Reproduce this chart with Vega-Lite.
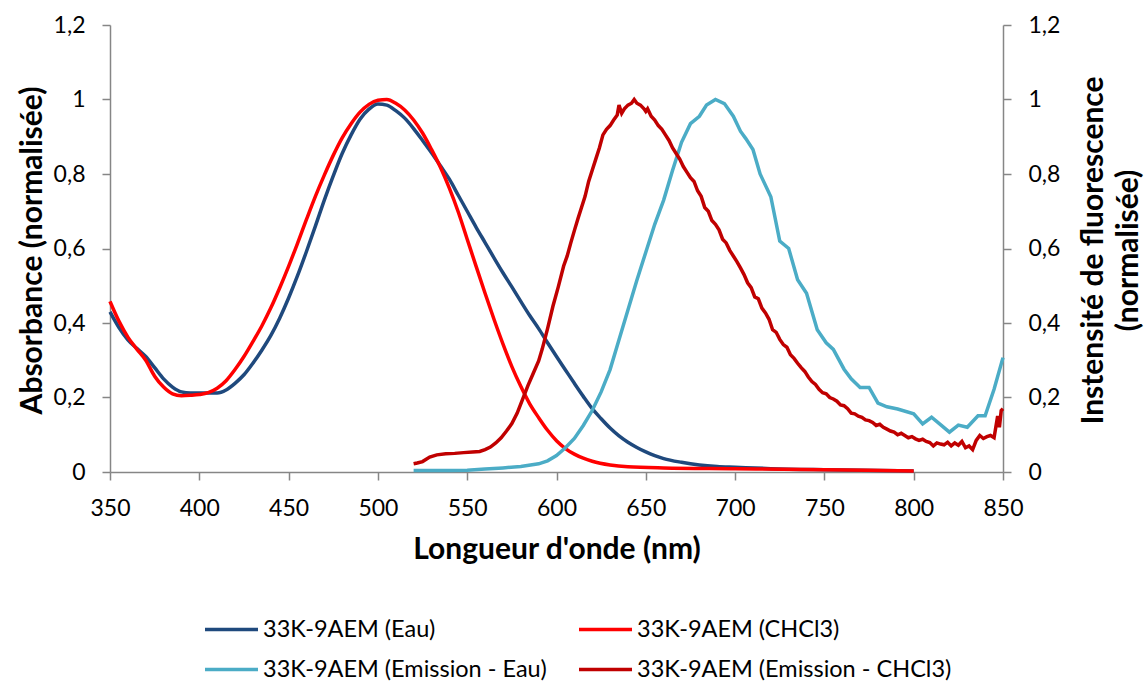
{
  "$schema": "https://vega.github.io/schema/vega-lite/v6.json",
  "width": 893,
  "height": 447,
  "autosize": {"type": "none"},
  "padding": {"left": 110, "top": 25, "right": 143, "bottom": 212},
  "background": "white",
  "config": {
    "font": "Lato",
    "view": {"stroke": null},
    "axis": {
      "grid": false,
      "domainColor": "#868686",
      "domainWidth": 1.5,
      "tickColor": "#868686",
      "tickWidth": 1.5,
      "tickSize": 8,
      "labelFont": "Lato",
      "labelFontSize": 23,
      "labelColor": "#000000",
      "labelFlush": false,
      "titleFont": "Lato",
      "titleFontSize": 30,
      "titleFontWeight": "bold",
      "titleColor": "#000000"
    },
    "legend": {
      "orient": "none",
      "legendX": 93,
      "legendY": 576,
      "columns": 2,
      "direction": "horizontal",
      "symbolType": "stroke",
      "symbolSize": 2809,
      "symbolStrokeWidth": 3.5,
      "labelFont": "Lato",
      "labelFontSize": 23.5,
      "labelColor": "#000000",
      "labelLimit": 500,
      "labelOffset": 3,
      "columnPadding": 25,
      "rowPadding": -12,
      "title": null
    }
  },
  "datasets": {
    "abs": [
      {"s": "33K-9AEM (Eau)", "x": 350, "y": 0.430}, {"s": "33K-9AEM (Eau)", "x": 355, "y": 0.388},
      {"s": "33K-9AEM (Eau)", "x": 360, "y": 0.355}, {"s": "33K-9AEM (Eau)", "x": 365, "y": 0.332},
      {"s": "33K-9AEM (Eau)", "x": 370, "y": 0.310}, {"s": "33K-9AEM (Eau)", "x": 375, "y": 0.280},
      {"s": "33K-9AEM (Eau)", "x": 380, "y": 0.250}, {"s": "33K-9AEM (Eau)", "x": 385, "y": 0.228},
      {"s": "33K-9AEM (Eau)", "x": 390, "y": 0.215}, {"s": "33K-9AEM (Eau)", "x": 395, "y": 0.212},
      {"s": "33K-9AEM (Eau)", "x": 400, "y": 0.212}, {"s": "33K-9AEM (Eau)", "x": 405, "y": 0.212},
      {"s": "33K-9AEM (Eau)", "x": 410, "y": 0.212}, {"s": "33K-9AEM (Eau)", "x": 415, "y": 0.220},
      {"s": "33K-9AEM (Eau)", "x": 420, "y": 0.238}, {"s": "33K-9AEM (Eau)", "x": 425, "y": 0.261},
      {"s": "33K-9AEM (Eau)", "x": 430, "y": 0.292}, {"s": "33K-9AEM (Eau)", "x": 435, "y": 0.327},
      {"s": "33K-9AEM (Eau)", "x": 440, "y": 0.366}, {"s": "33K-9AEM (Eau)", "x": 445, "y": 0.413},
      {"s": "33K-9AEM (Eau)", "x": 450, "y": 0.467}, {"s": "33K-9AEM (Eau)", "x": 455, "y": 0.527},
      {"s": "33K-9AEM (Eau)", "x": 460, "y": 0.592}, {"s": "33K-9AEM (Eau)", "x": 465, "y": 0.660},
      {"s": "33K-9AEM (Eau)", "x": 470, "y": 0.730}, {"s": "33K-9AEM (Eau)", "x": 475, "y": 0.795},
      {"s": "33K-9AEM (Eau)", "x": 480, "y": 0.855}, {"s": "33K-9AEM (Eau)", "x": 485, "y": 0.905},
      {"s": "33K-9AEM (Eau)", "x": 490, "y": 0.947}, {"s": "33K-9AEM (Eau)", "x": 495, "y": 0.974},
      {"s": "33K-9AEM (Eau)", "x": 500, "y": 0.988}, {"s": "33K-9AEM (Eau)", "x": 505, "y": 0.985},
      {"s": "33K-9AEM (Eau)", "x": 510, "y": 0.970}, {"s": "33K-9AEM (Eau)", "x": 515, "y": 0.950},
      {"s": "33K-9AEM (Eau)", "x": 520, "y": 0.922}, {"s": "33K-9AEM (Eau)", "x": 525, "y": 0.890},
      {"s": "33K-9AEM (Eau)", "x": 530, "y": 0.857}, {"s": "33K-9AEM (Eau)", "x": 535, "y": 0.822},
      {"s": "33K-9AEM (Eau)", "x": 540, "y": 0.786}, {"s": "33K-9AEM (Eau)", "x": 545, "y": 0.743},
      {"s": "33K-9AEM (Eau)", "x": 550, "y": 0.700}, {"s": "33K-9AEM (Eau)", "x": 555, "y": 0.657},
      {"s": "33K-9AEM (Eau)", "x": 560, "y": 0.616}, {"s": "33K-9AEM (Eau)", "x": 565, "y": 0.575},
      {"s": "33K-9AEM (Eau)", "x": 570, "y": 0.535}, {"s": "33K-9AEM (Eau)", "x": 575, "y": 0.497},
      {"s": "33K-9AEM (Eau)", "x": 580, "y": 0.458}, {"s": "33K-9AEM (Eau)", "x": 585, "y": 0.420},
      {"s": "33K-9AEM (Eau)", "x": 590, "y": 0.385}, {"s": "33K-9AEM (Eau)", "x": 595, "y": 0.347},
      {"s": "33K-9AEM (Eau)", "x": 600, "y": 0.310}, {"s": "33K-9AEM (Eau)", "x": 605, "y": 0.274},
      {"s": "33K-9AEM (Eau)", "x": 610, "y": 0.238}, {"s": "33K-9AEM (Eau)", "x": 615, "y": 0.203},
      {"s": "33K-9AEM (Eau)", "x": 620, "y": 0.170}, {"s": "33K-9AEM (Eau)", "x": 625, "y": 0.143},
      {"s": "33K-9AEM (Eau)", "x": 630, "y": 0.118}, {"s": "33K-9AEM (Eau)", "x": 635, "y": 0.097},
      {"s": "33K-9AEM (Eau)", "x": 640, "y": 0.080}, {"s": "33K-9AEM (Eau)", "x": 645, "y": 0.066},
      {"s": "33K-9AEM (Eau)", "x": 650, "y": 0.054}, {"s": "33K-9AEM (Eau)", "x": 655, "y": 0.044},
      {"s": "33K-9AEM (Eau)", "x": 660, "y": 0.036}, {"s": "33K-9AEM (Eau)", "x": 670, "y": 0.026},
      {"s": "33K-9AEM (Eau)", "x": 680, "y": 0.019}, {"s": "33K-9AEM (Eau)", "x": 690, "y": 0.015},
      {"s": "33K-9AEM (Eau)", "x": 700, "y": 0.013}, {"s": "33K-9AEM (Eau)", "x": 720, "y": 0.009},
      {"s": "33K-9AEM (Eau)", "x": 750, "y": 0.006}, {"s": "33K-9AEM (Eau)", "x": 780, "y": 0.004},
      {"s": "33K-9AEM (Eau)", "x": 800, "y": 0.003},
      {"s": "33K-9AEM (CHCl3)", "x": 350, "y": 0.458}, {"s": "33K-9AEM (CHCl3)", "x": 355, "y": 0.405},
      {"s": "33K-9AEM (CHCl3)", "x": 360, "y": 0.362}, {"s": "33K-9AEM (CHCl3)", "x": 365, "y": 0.330},
      {"s": "33K-9AEM (CHCl3)", "x": 370, "y": 0.300}, {"s": "33K-9AEM (CHCl3)", "x": 375, "y": 0.257},
      {"s": "33K-9AEM (CHCl3)", "x": 380, "y": 0.228}, {"s": "33K-9AEM (CHCl3)", "x": 385, "y": 0.210},
      {"s": "33K-9AEM (CHCl3)", "x": 390, "y": 0.205}, {"s": "33K-9AEM (CHCl3)", "x": 395, "y": 0.206},
      {"s": "33K-9AEM (CHCl3)", "x": 400, "y": 0.208}, {"s": "33K-9AEM (CHCl3)", "x": 405, "y": 0.213},
      {"s": "33K-9AEM (CHCl3)", "x": 410, "y": 0.225}, {"s": "33K-9AEM (CHCl3)", "x": 415, "y": 0.245},
      {"s": "33K-9AEM (CHCl3)", "x": 420, "y": 0.275}, {"s": "33K-9AEM (CHCl3)", "x": 425, "y": 0.310},
      {"s": "33K-9AEM (CHCl3)", "x": 430, "y": 0.350}, {"s": "33K-9AEM (CHCl3)", "x": 435, "y": 0.392},
      {"s": "33K-9AEM (CHCl3)", "x": 440, "y": 0.440}, {"s": "33K-9AEM (CHCl3)", "x": 445, "y": 0.494},
      {"s": "33K-9AEM (CHCl3)", "x": 450, "y": 0.552}, {"s": "33K-9AEM (CHCl3)", "x": 455, "y": 0.614},
      {"s": "33K-9AEM (CHCl3)", "x": 460, "y": 0.678}, {"s": "33K-9AEM (CHCl3)", "x": 465, "y": 0.740},
      {"s": "33K-9AEM (CHCl3)", "x": 470, "y": 0.797}, {"s": "33K-9AEM (CHCl3)", "x": 475, "y": 0.850},
      {"s": "33K-9AEM (CHCl3)", "x": 480, "y": 0.897}, {"s": "33K-9AEM (CHCl3)", "x": 485, "y": 0.935},
      {"s": "33K-9AEM (CHCl3)", "x": 490, "y": 0.966}, {"s": "33K-9AEM (CHCl3)", "x": 495, "y": 0.987},
      {"s": "33K-9AEM (CHCl3)", "x": 500, "y": 0.998}, {"s": "33K-9AEM (CHCl3)", "x": 505, "y": 1.000},
      {"s": "33K-9AEM (CHCl3)", "x": 510, "y": 0.990}, {"s": "33K-9AEM (CHCl3)", "x": 515, "y": 0.972},
      {"s": "33K-9AEM (CHCl3)", "x": 520, "y": 0.945}, {"s": "33K-9AEM (CHCl3)", "x": 525, "y": 0.910},
      {"s": "33K-9AEM (CHCl3)", "x": 530, "y": 0.866}, {"s": "33K-9AEM (CHCl3)", "x": 535, "y": 0.818},
      {"s": "33K-9AEM (CHCl3)", "x": 540, "y": 0.762}, {"s": "33K-9AEM (CHCl3)", "x": 545, "y": 0.698},
      {"s": "33K-9AEM (CHCl3)", "x": 550, "y": 0.625}, {"s": "33K-9AEM (CHCl3)", "x": 555, "y": 0.552},
      {"s": "33K-9AEM (CHCl3)", "x": 560, "y": 0.480}, {"s": "33K-9AEM (CHCl3)", "x": 565, "y": 0.410},
      {"s": "33K-9AEM (CHCl3)", "x": 570, "y": 0.344}, {"s": "33K-9AEM (CHCl3)", "x": 575, "y": 0.283},
      {"s": "33K-9AEM (CHCl3)", "x": 580, "y": 0.230}, {"s": "33K-9AEM (CHCl3)", "x": 585, "y": 0.183},
      {"s": "33K-9AEM (CHCl3)", "x": 590, "y": 0.146}, {"s": "33K-9AEM (CHCl3)", "x": 595, "y": 0.112},
      {"s": "33K-9AEM (CHCl3)", "x": 600, "y": 0.084}, {"s": "33K-9AEM (CHCl3)", "x": 605, "y": 0.063},
      {"s": "33K-9AEM (CHCl3)", "x": 610, "y": 0.048}, {"s": "33K-9AEM (CHCl3)", "x": 615, "y": 0.037},
      {"s": "33K-9AEM (CHCl3)", "x": 620, "y": 0.029}, {"s": "33K-9AEM (CHCl3)", "x": 630, "y": 0.019},
      {"s": "33K-9AEM (CHCl3)", "x": 640, "y": 0.014}, {"s": "33K-9AEM (CHCl3)", "x": 660, "y": 0.011},
      {"s": "33K-9AEM (CHCl3)", "x": 700, "y": 0.009}, {"s": "33K-9AEM (CHCl3)", "x": 750, "y": 0.006},
      {"s": "33K-9AEM (CHCl3)", "x": 800, "y": 0.003}
    ],
    "em": [
      {"s": "33K-9AEM (Emission - Eau)", "x": 520, "y": 0.004}, {"s": "33K-9AEM (Emission - Eau)", "x": 530, "y": 0.004},
      {"s": "33K-9AEM (Emission - Eau)", "x": 540, "y": 0.004}, {"s": "33K-9AEM (Emission - Eau)", "x": 550, "y": 0.005},
      {"s": "33K-9AEM (Emission - Eau)", "x": 560, "y": 0.008}, {"s": "33K-9AEM (Emission - Eau)", "x": 570, "y": 0.011},
      {"s": "33K-9AEM (Emission - Eau)", "x": 580, "y": 0.015}, {"s": "33K-9AEM (Emission - Eau)", "x": 590, "y": 0.022},
      {"s": "33K-9AEM (Emission - Eau)", "x": 595, "y": 0.030}, {"s": "33K-9AEM (Emission - Eau)", "x": 600, "y": 0.044},
      {"s": "33K-9AEM (Emission - Eau)", "x": 605, "y": 0.065}, {"s": "33K-9AEM (Emission - Eau)", "x": 610, "y": 0.090},
      {"s": "33K-9AEM (Emission - Eau)", "x": 615, "y": 0.125}, {"s": "33K-9AEM (Emission - Eau)", "x": 620, "y": 0.165},
      {"s": "33K-9AEM (Emission - Eau)", "x": 625, "y": 0.215}, {"s": "33K-9AEM (Emission - Eau)", "x": 630, "y": 0.275},
      {"s": "33K-9AEM (Emission - Eau)", "x": 635, "y": 0.355}, {"s": "33K-9AEM (Emission - Eau)", "x": 640, "y": 0.435},
      {"s": "33K-9AEM (Emission - Eau)", "x": 645, "y": 0.515}, {"s": "33K-9AEM (Emission - Eau)", "x": 650, "y": 0.590},
      {"s": "33K-9AEM (Emission - Eau)", "x": 655, "y": 0.665}, {"s": "33K-9AEM (Emission - Eau)", "x": 660, "y": 0.730},
      {"s": "33K-9AEM (Emission - Eau)", "x": 665, "y": 0.810}, {"s": "33K-9AEM (Emission - Eau)", "x": 670, "y": 0.885},
      {"s": "33K-9AEM (Emission - Eau)", "x": 675, "y": 0.935}, {"s": "33K-9AEM (Emission - Eau)", "x": 680, "y": 0.955},
      {"s": "33K-9AEM (Emission - Eau)", "x": 684, "y": 0.985}, {"s": "33K-9AEM (Emission - Eau)", "x": 689, "y": 1.000},
      {"s": "33K-9AEM (Emission - Eau)", "x": 694, "y": 0.989}, {"s": "33K-9AEM (Emission - Eau)", "x": 699, "y": 0.955},
      {"s": "33K-9AEM (Emission - Eau)", "x": 703, "y": 0.915}, {"s": "33K-9AEM (Emission - Eau)", "x": 706, "y": 0.895},
      {"s": "33K-9AEM (Emission - Eau)", "x": 710, "y": 0.866}, {"s": "33K-9AEM (Emission - Eau)", "x": 714, "y": 0.800},
      {"s": "33K-9AEM (Emission - Eau)", "x": 720, "y": 0.739}, {"s": "33K-9AEM (Emission - Eau)", "x": 725, "y": 0.620},
      {"s": "33K-9AEM (Emission - Eau)", "x": 730, "y": 0.600}, {"s": "33K-9AEM (Emission - Eau)", "x": 735, "y": 0.516},
      {"s": "33K-9AEM (Emission - Eau)", "x": 740, "y": 0.480}, {"s": "33K-9AEM (Emission - Eau)", "x": 746, "y": 0.382},
      {"s": "33K-9AEM (Emission - Eau)", "x": 751, "y": 0.347}, {"s": "33K-9AEM (Emission - Eau)", "x": 755, "y": 0.329},
      {"s": "33K-9AEM (Emission - Eau)", "x": 761, "y": 0.276}, {"s": "33K-9AEM (Emission - Eau)", "x": 765, "y": 0.250},
      {"s": "33K-9AEM (Emission - Eau)", "x": 770, "y": 0.227}, {"s": "33K-9AEM (Emission - Eau)", "x": 775, "y": 0.227},
      {"s": "33K-9AEM (Emission - Eau)", "x": 780, "y": 0.185}, {"s": "33K-9AEM (Emission - Eau)", "x": 785, "y": 0.175},
      {"s": "33K-9AEM (Emission - Eau)", "x": 791, "y": 0.169}, {"s": "33K-9AEM (Emission - Eau)", "x": 800, "y": 0.156},
      {"s": "33K-9AEM (Emission - Eau)", "x": 805, "y": 0.129}, {"s": "33K-9AEM (Emission - Eau)", "x": 810, "y": 0.147},
      {"s": "33K-9AEM (Emission - Eau)", "x": 815, "y": 0.127}, {"s": "33K-9AEM (Emission - Eau)", "x": 820, "y": 0.107},
      {"s": "33K-9AEM (Emission - Eau)", "x": 825, "y": 0.126}, {"s": "33K-9AEM (Emission - Eau)", "x": 830, "y": 0.120},
      {"s": "33K-9AEM (Emission - Eau)", "x": 836, "y": 0.151}, {"s": "33K-9AEM (Emission - Eau)", "x": 840, "y": 0.151},
      {"s": "33K-9AEM (Emission - Eau)", "x": 845, "y": 0.222}, {"s": "33K-9AEM (Emission - Eau)", "x": 850, "y": 0.307},
      {"s": "33K-9AEM (Emission - CHCl3)", "x": 520, "y": 0.022}, {"s": "33K-9AEM (Emission - CHCl3)", "x": 522, "y": 0.024},
      {"s": "33K-9AEM (Emission - CHCl3)", "x": 525, "y": 0.028}, {"s": "33K-9AEM (Emission - CHCl3)", "x": 529, "y": 0.040},
      {"s": "33K-9AEM (Emission - CHCl3)", "x": 533, "y": 0.046}, {"s": "33K-9AEM (Emission - CHCl3)", "x": 538, "y": 0.049},
      {"s": "33K-9AEM (Emission - CHCl3)", "x": 543, "y": 0.050}, {"s": "33K-9AEM (Emission - CHCl3)", "x": 548, "y": 0.052},
      {"s": "33K-9AEM (Emission - CHCl3)", "x": 553, "y": 0.054}, {"s": "33K-9AEM (Emission - CHCl3)", "x": 557, "y": 0.055},
      {"s": "33K-9AEM (Emission - CHCl3)", "x": 560, "y": 0.060}, {"s": "33K-9AEM (Emission - CHCl3)", "x": 563, "y": 0.067},
      {"s": "33K-9AEM (Emission - CHCl3)", "x": 566, "y": 0.078}, {"s": "33K-9AEM (Emission - CHCl3)", "x": 569, "y": 0.092},
      {"s": "33K-9AEM (Emission - CHCl3)", "x": 572, "y": 0.110}, {"s": "33K-9AEM (Emission - CHCl3)", "x": 575, "y": 0.130},
      {"s": "33K-9AEM (Emission - CHCl3)", "x": 578, "y": 0.158}, {"s": "33K-9AEM (Emission - CHCl3)", "x": 581, "y": 0.195},
      {"s": "33K-9AEM (Emission - CHCl3)", "x": 584, "y": 0.232}, {"s": "33K-9AEM (Emission - CHCl3)", "x": 587, "y": 0.265},
      {"s": "33K-9AEM (Emission - CHCl3)", "x": 590, "y": 0.298}, {"s": "33K-9AEM (Emission - CHCl3)", "x": 592, "y": 0.330},
      {"s": "33K-9AEM (Emission - CHCl3)", "x": 595, "y": 0.385}, {"s": "33K-9AEM (Emission - CHCl3)", "x": 598, "y": 0.445},
      {"s": "33K-9AEM (Emission - CHCl3)", "x": 601, "y": 0.497}, {"s": "33K-9AEM (Emission - CHCl3)", "x": 604, "y": 0.553},
      {"s": "33K-9AEM (Emission - CHCl3)", "x": 606, "y": 0.580}, {"s": "33K-9AEM (Emission - CHCl3)", "x": 608, "y": 0.615},
      {"s": "33K-9AEM (Emission - CHCl3)", "x": 610, "y": 0.648}, {"s": "33K-9AEM (Emission - CHCl3)", "x": 612, "y": 0.680},
      {"s": "33K-9AEM (Emission - CHCl3)", "x": 614, "y": 0.710}, {"s": "33K-9AEM (Emission - CHCl3)", "x": 616, "y": 0.740},
      {"s": "33K-9AEM (Emission - CHCl3)", "x": 618, "y": 0.780}, {"s": "33K-9AEM (Emission - CHCl3)", "x": 620, "y": 0.810},
      {"s": "33K-9AEM (Emission - CHCl3)", "x": 622, "y": 0.840}, {"s": "33K-9AEM (Emission - CHCl3)", "x": 624, "y": 0.870},
      {"s": "33K-9AEM (Emission - CHCl3)", "x": 626, "y": 0.905}, {"s": "33K-9AEM (Emission - CHCl3)", "x": 628, "y": 0.920},
      {"s": "33K-9AEM (Emission - CHCl3)", "x": 630, "y": 0.930}, {"s": "33K-9AEM (Emission - CHCl3)", "x": 632, "y": 0.945},
      {"s": "33K-9AEM (Emission - CHCl3)", "x": 634, "y": 0.958}, {"s": "33K-9AEM (Emission - CHCl3)", "x": 635, "y": 0.985},
      {"s": "33K-9AEM (Emission - CHCl3)", "x": 636.5, "y": 0.963}, {"s": "33K-9AEM (Emission - CHCl3)", "x": 638, "y": 0.975},
      {"s": "33K-9AEM (Emission - CHCl3)", "x": 640, "y": 0.985}, {"s": "33K-9AEM (Emission - CHCl3)", "x": 642, "y": 0.990},
      {"s": "33K-9AEM (Emission - CHCl3)", "x": 643.5, "y": 1.000}, {"s": "33K-9AEM (Emission - CHCl3)", "x": 645, "y": 0.990},
      {"s": "33K-9AEM (Emission - CHCl3)", "x": 647, "y": 0.985}, {"s": "33K-9AEM (Emission - CHCl3)", "x": 649, "y": 0.975},
      {"s": "33K-9AEM (Emission - CHCl3)", "x": 650, "y": 0.968}, {"s": "33K-9AEM (Emission - CHCl3)", "x": 651, "y": 0.975},
      {"s": "33K-9AEM (Emission - CHCl3)", "x": 653, "y": 0.955}, {"s": "33K-9AEM (Emission - CHCl3)", "x": 655, "y": 0.945},
      {"s": "33K-9AEM (Emission - CHCl3)", "x": 657, "y": 0.930}, {"s": "33K-9AEM (Emission - CHCl3)", "x": 659, "y": 0.920},
      {"s": "33K-9AEM (Emission - CHCl3)", "x": 661, "y": 0.905}, {"s": "33K-9AEM (Emission - CHCl3)", "x": 663, "y": 0.890},
      {"s": "33K-9AEM (Emission - CHCl3)", "x": 665, "y": 0.870}, {"s": "33K-9AEM (Emission - CHCl3)", "x": 667, "y": 0.855},
      {"s": "33K-9AEM (Emission - CHCl3)", "x": 669, "y": 0.840}, {"s": "33K-9AEM (Emission - CHCl3)", "x": 671, "y": 0.820},
      {"s": "33K-9AEM (Emission - CHCl3)", "x": 673, "y": 0.805}, {"s": "33K-9AEM (Emission - CHCl3)", "x": 675, "y": 0.790},
      {"s": "33K-9AEM (Emission - CHCl3)", "x": 677, "y": 0.780}, {"s": "33K-9AEM (Emission - CHCl3)", "x": 679, "y": 0.755},
      {"s": "33K-9AEM (Emission - CHCl3)", "x": 681, "y": 0.740}, {"s": "33K-9AEM (Emission - CHCl3)", "x": 683, "y": 0.710},
      {"s": "33K-9AEM (Emission - CHCl3)", "x": 685, "y": 0.700}, {"s": "33K-9AEM (Emission - CHCl3)", "x": 687, "y": 0.675},
      {"s": "33K-9AEM (Emission - CHCl3)", "x": 689, "y": 0.665}, {"s": "33K-9AEM (Emission - CHCl3)", "x": 691, "y": 0.650},
      {"s": "33K-9AEM (Emission - CHCl3)", "x": 693, "y": 0.625}, {"s": "33K-9AEM (Emission - CHCl3)", "x": 695, "y": 0.615},
      {"s": "33K-9AEM (Emission - CHCl3)", "x": 697, "y": 0.595}, {"s": "33K-9AEM (Emission - CHCl3)", "x": 699, "y": 0.580},
      {"s": "33K-9AEM (Emission - CHCl3)", "x": 701, "y": 0.565}, {"s": "33K-9AEM (Emission - CHCl3)", "x": 703, "y": 0.548},
      {"s": "33K-9AEM (Emission - CHCl3)", "x": 705, "y": 0.530}, {"s": "33K-9AEM (Emission - CHCl3)", "x": 707, "y": 0.508},
      {"s": "33K-9AEM (Emission - CHCl3)", "x": 709, "y": 0.495}, {"s": "33K-9AEM (Emission - CHCl3)", "x": 711, "y": 0.470},
      {"s": "33K-9AEM (Emission - CHCl3)", "x": 713, "y": 0.465}, {"s": "33K-9AEM (Emission - CHCl3)", "x": 715, "y": 0.440},
      {"s": "33K-9AEM (Emission - CHCl3)", "x": 717, "y": 0.427}, {"s": "33K-9AEM (Emission - CHCl3)", "x": 719, "y": 0.410},
      {"s": "33K-9AEM (Emission - CHCl3)", "x": 721, "y": 0.382}, {"s": "33K-9AEM (Emission - CHCl3)", "x": 723, "y": 0.375},
      {"s": "33K-9AEM (Emission - CHCl3)", "x": 725, "y": 0.356}, {"s": "33K-9AEM (Emission - CHCl3)", "x": 727, "y": 0.342},
      {"s": "33K-9AEM (Emission - CHCl3)", "x": 729, "y": 0.335}, {"s": "33K-9AEM (Emission - CHCl3)", "x": 731, "y": 0.315},
      {"s": "33K-9AEM (Emission - CHCl3)", "x": 733, "y": 0.305}, {"s": "33K-9AEM (Emission - CHCl3)", "x": 735, "y": 0.292},
      {"s": "33K-9AEM (Emission - CHCl3)", "x": 737, "y": 0.280}, {"s": "33K-9AEM (Emission - CHCl3)", "x": 739, "y": 0.270},
      {"s": "33K-9AEM (Emission - CHCl3)", "x": 741, "y": 0.255}, {"s": "33K-9AEM (Emission - CHCl3)", "x": 743, "y": 0.243},
      {"s": "33K-9AEM (Emission - CHCl3)", "x": 745, "y": 0.235}, {"s": "33K-9AEM (Emission - CHCl3)", "x": 747, "y": 0.222},
      {"s": "33K-9AEM (Emission - CHCl3)", "x": 749, "y": 0.213}, {"s": "33K-9AEM (Emission - CHCl3)", "x": 751, "y": 0.210},
      {"s": "33K-9AEM (Emission - CHCl3)", "x": 753, "y": 0.200}, {"s": "33K-9AEM (Emission - CHCl3)", "x": 755, "y": 0.196},
      {"s": "33K-9AEM (Emission - CHCl3)", "x": 757, "y": 0.190}, {"s": "33K-9AEM (Emission - CHCl3)", "x": 759, "y": 0.180},
      {"s": "33K-9AEM (Emission - CHCl3)", "x": 761, "y": 0.178}, {"s": "33K-9AEM (Emission - CHCl3)", "x": 763, "y": 0.170},
      {"s": "33K-9AEM (Emission - CHCl3)", "x": 765, "y": 0.158}, {"s": "33K-9AEM (Emission - CHCl3)", "x": 767, "y": 0.156},
      {"s": "33K-9AEM (Emission - CHCl3)", "x": 769, "y": 0.150}, {"s": "33K-9AEM (Emission - CHCl3)", "x": 771, "y": 0.147},
      {"s": "33K-9AEM (Emission - CHCl3)", "x": 773, "y": 0.140}, {"s": "33K-9AEM (Emission - CHCl3)", "x": 775, "y": 0.138},
      {"s": "33K-9AEM (Emission - CHCl3)", "x": 777, "y": 0.133}, {"s": "33K-9AEM (Emission - CHCl3)", "x": 779, "y": 0.125},
      {"s": "33K-9AEM (Emission - CHCl3)", "x": 781, "y": 0.128}, {"s": "33K-9AEM (Emission - CHCl3)", "x": 783, "y": 0.120},
      {"s": "33K-9AEM (Emission - CHCl3)", "x": 785, "y": 0.115}, {"s": "33K-9AEM (Emission - CHCl3)", "x": 787, "y": 0.110},
      {"s": "33K-9AEM (Emission - CHCl3)", "x": 789, "y": 0.107}, {"s": "33K-9AEM (Emission - CHCl3)", "x": 791, "y": 0.100},
      {"s": "33K-9AEM (Emission - CHCl3)", "x": 793, "y": 0.104}, {"s": "33K-9AEM (Emission - CHCl3)", "x": 795, "y": 0.098},
      {"s": "33K-9AEM (Emission - CHCl3)", "x": 797, "y": 0.092}, {"s": "33K-9AEM (Emission - CHCl3)", "x": 799, "y": 0.095},
      {"s": "33K-9AEM (Emission - CHCl3)", "x": 801, "y": 0.089}, {"s": "33K-9AEM (Emission - CHCl3)", "x": 803, "y": 0.085},
      {"s": "33K-9AEM (Emission - CHCl3)", "x": 805, "y": 0.088}, {"s": "33K-9AEM (Emission - CHCl3)", "x": 807, "y": 0.082},
      {"s": "33K-9AEM (Emission - CHCl3)", "x": 809, "y": 0.079}, {"s": "33K-9AEM (Emission - CHCl3)", "x": 811, "y": 0.070},
      {"s": "33K-9AEM (Emission - CHCl3)", "x": 813, "y": 0.078}, {"s": "33K-9AEM (Emission - CHCl3)", "x": 815, "y": 0.075},
      {"s": "33K-9AEM (Emission - CHCl3)", "x": 817, "y": 0.073}, {"s": "33K-9AEM (Emission - CHCl3)", "x": 819, "y": 0.080},
      {"s": "33K-9AEM (Emission - CHCl3)", "x": 821, "y": 0.070}, {"s": "33K-9AEM (Emission - CHCl3)", "x": 823, "y": 0.078},
      {"s": "33K-9AEM (Emission - CHCl3)", "x": 825, "y": 0.072}, {"s": "33K-9AEM (Emission - CHCl3)", "x": 827, "y": 0.082},
      {"s": "33K-9AEM (Emission - CHCl3)", "x": 829, "y": 0.065}, {"s": "33K-9AEM (Emission - CHCl3)", "x": 831, "y": 0.070},
      {"s": "33K-9AEM (Emission - CHCl3)", "x": 833, "y": 0.060}, {"s": "33K-9AEM (Emission - CHCl3)", "x": 835, "y": 0.085},
      {"s": "33K-9AEM (Emission - CHCl3)", "x": 837, "y": 0.098}, {"s": "33K-9AEM (Emission - CHCl3)", "x": 839, "y": 0.090},
      {"s": "33K-9AEM (Emission - CHCl3)", "x": 841, "y": 0.095}, {"s": "33K-9AEM (Emission - CHCl3)", "x": 843, "y": 0.098},
      {"s": "33K-9AEM (Emission - CHCl3)", "x": 845, "y": 0.092}, {"s": "33K-9AEM (Emission - CHCl3)", "x": 847, "y": 0.150},
      {"s": "33K-9AEM (Emission - CHCl3)", "x": 848, "y": 0.120}, {"s": "33K-9AEM (Emission - CHCl3)", "x": 849, "y": 0.165},
      {"s": "33K-9AEM (Emission - CHCl3)", "x": 850, "y": 0.170}
    ]
  },
  "layer": [
    {
      "data": {"name": "abs"},
      "mark": {"type": "line", "strokeWidth": 3.5, "interpolate": "monotone"},
      "encoding": {
        "x": {
          "field": "x", "type": "quantitative",
          "scale": {"domain": [350, 850], "nice": false, "zero": false},
          "axis": {
            "values": [350, 400, 450, 500, 550, 600, 650, 700, 750, 800, 850],
            "labelPadding": 17,
            "title": "Longueur d'onde (nm)",
            "titleX": 446.5, "titleY": 77, "titleBaseline": "middle", "titleAlign": "center"
          }
        },
        "y": {
          "field": "y", "type": "quantitative",
          "scale": {"domain": [0, 1.2], "nice": false},
          "axis": {
            "orient": "left",
            "values": [0, 0.2, 0.4, 0.6, 0.8, 1, 1.2],
            "labelExpr": "replace(toString(datum.value), '.', ',')",
            "labelPadding": 17,
            "title": "Absorbance (normalisée)",
            "titleAngle": -90, "titleX": -78, "titleY": 225, "titleBaseline": "middle", "titleAlign": "center"
          }
        },
        "color": {
          "field": "s", "type": "nominal",
          "scale": {
            "domain": ["33K-9AEM (Eau)", "33K-9AEM (CHCl3)", "33K-9AEM (Emission - Eau)", "33K-9AEM (Emission - CHCl3)"],
            "range": ["#1F497D", "#FF0000", "#4BACC6", "#C00000"]
          }
        }
      }
    },
    {
      "data": {"name": "em"},
      "mark": {"type": "line", "strokeWidth": 3.5},
      "encoding": {
        "x": {"field": "x", "type": "quantitative", "scale": {"domain": [350, 850], "nice": false, "zero": false}},
        "y": {
          "field": "y", "type": "quantitative",
          "scale": {"domain": [0, 1.2], "nice": false},
          "axis": {
            "orient": "right",
            "values": [0, 0.2, 0.4, 0.6, 0.8, 1, 1.2],
            "labelExpr": "replace(toString(datum.value), '.', ',')",
            "labelPadding": 17,
            "title": ["Instensité de fluorescence", "(normalisée)"],
            "titleLineHeight": 35,
            "titleAngle": -90, "titleX": 90, "titleY": 225, "titleBaseline": "middle", "titleAlign": "center"
          }
        },
        "color": {
          "field": "s", "type": "nominal",
          "scale": {
            "domain": ["33K-9AEM (Eau)", "33K-9AEM (CHCl3)", "33K-9AEM (Emission - Eau)", "33K-9AEM (Emission - CHCl3)"],
            "range": ["#1F497D", "#FF0000", "#4BACC6", "#C00000"]
          }
        }
      }
    }
  ],
  "resolve": {"scale": {"y": "independent"}}
}
